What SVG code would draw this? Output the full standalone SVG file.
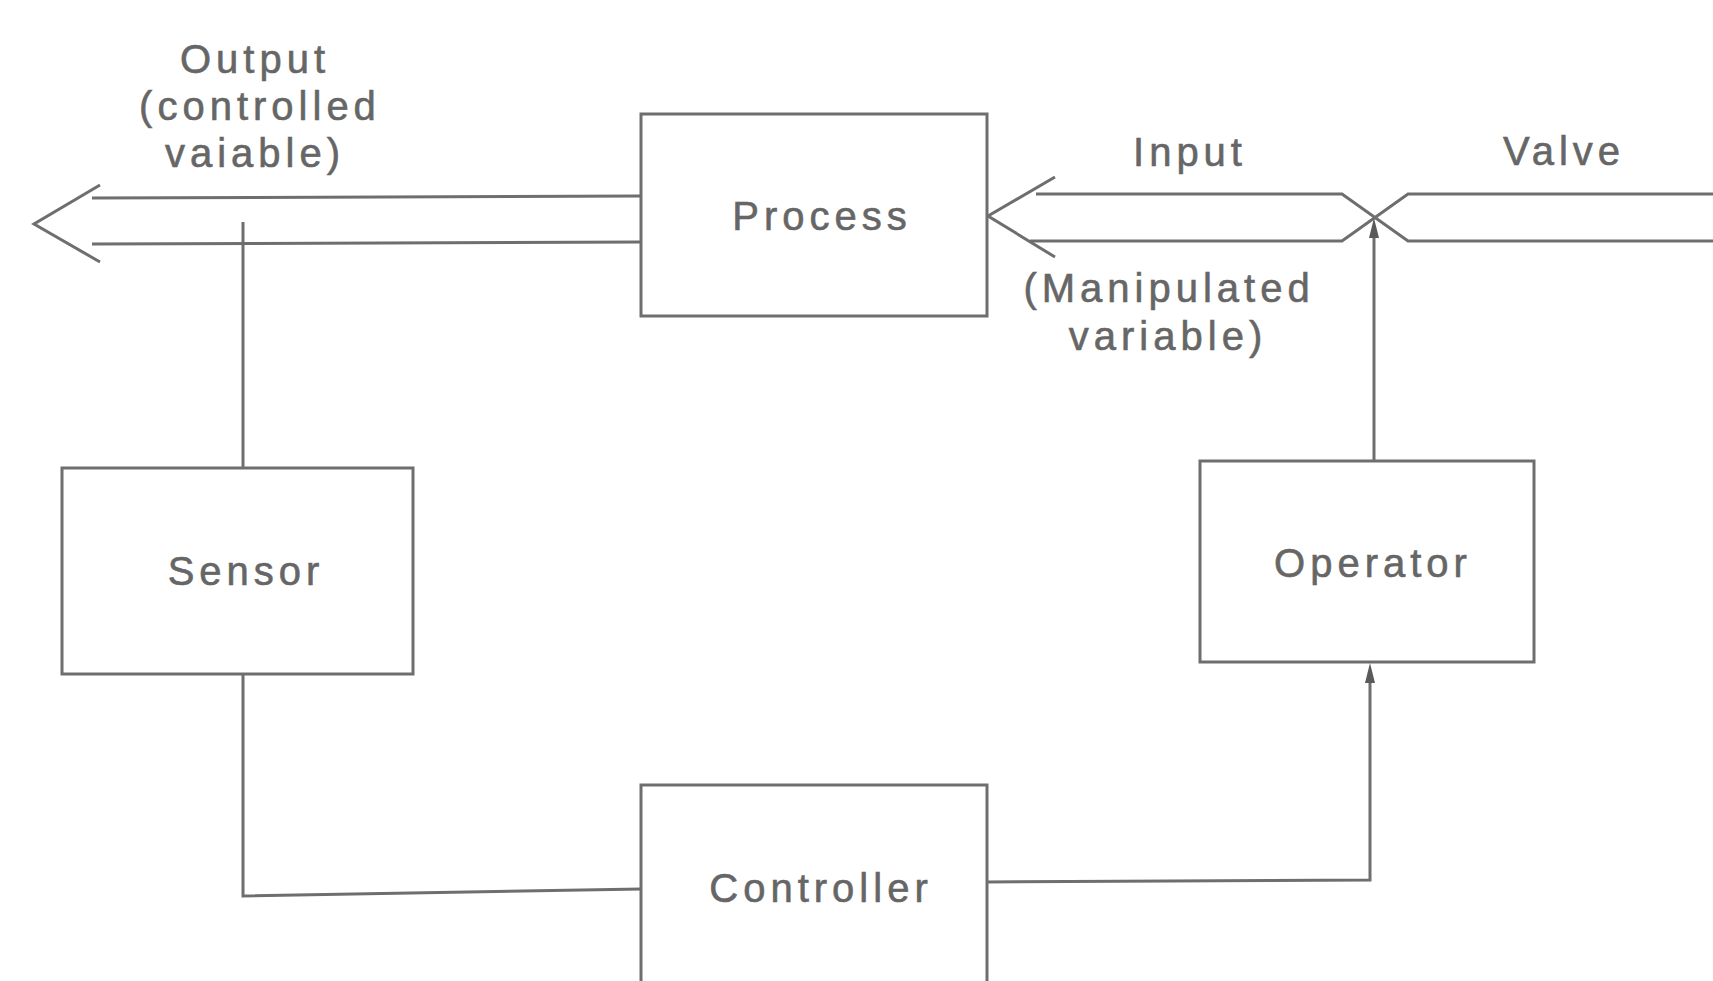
<svg xmlns="http://www.w3.org/2000/svg" width="1713" height="981" viewBox="0 0 1713 981">
<defs>
<style>
.ln{fill:none;stroke:#6e6e6e;stroke-width:3;stroke-linejoin:miter}
.box{fill:#ffffff;stroke:#6e6e6e;stroke-width:3}
.t{font-family:"Liberation Sans",Arial,sans-serif;font-size:40px;fill:#666666;letter-spacing:5px;text-anchor:middle;stroke:#666666;stroke-width:0.6}
</style>
</defs>
<rect width="1713" height="981" fill="#ffffff"/>
<g id="connectors">
<path class="ln" d="M641,196 L92,198"/>
<path class="ln" d="M641,242 L92,244"/>
<path class="ln" d="M100,185 L34,224 L100,262"/>
<path class="ln" d="M1036,194 L1342,194 L1408,241 L1713,241"/>
<path class="ln" d="M1030,241 L1342,241 L1408,194 L1713,194"/>
<path class="ln" d="M1055,177 L988,216 L1055,257"/>
<path class="ln" d="M243,222 L243,468"/>
<path class="ln" d="M243,675 L243,896 L641,889"/>
<path class="ln" d="M987,882 L1370,880 L1370,683"/>
<path d="M1365,683 L1370,663 L1375,683 Z" fill="#5a5a5a"/>
<path class="ln" d="M1374,461 L1374,238"/>
<path d="M1369,238 L1374,218 L1379,238 Z" fill="#5a5a5a"/>
</g>
<g id="process">
<rect class="box" x="641" y="114" width="346" height="202"/>
<text class="t" x="822" y="230">Process</text>
</g>
<g id="sensor">
<rect class="box" x="62" y="468" width="351" height="206"/>
<text class="t" x="246" y="585">Sensor</text>
</g>
<g id="controller">
<rect class="box" x="641" y="785" width="346" height="210"/>
<text class="t" x="821" y="902">Controller</text>
</g>
<g id="operator">
<rect class="box" x="1200" y="461" width="334" height="201"/>
<text class="t" x="1373" y="577">Operator</text>
</g>
<g id="labels">
<text class="t" x="255" y="73">Output</text>
<text class="t" x="260" y="120">(controlled</text>
<text class="t" x="255" y="167">vaiable)</text>
<text class="t" x="1190" y="166">Input</text>
<text class="t" x="1564" y="165">Valve</text>
<text class="t" x="1169" y="302">(Manipulated</text>
<text class="t" x="1168" y="350">variable)</text>
</g>
</svg>
